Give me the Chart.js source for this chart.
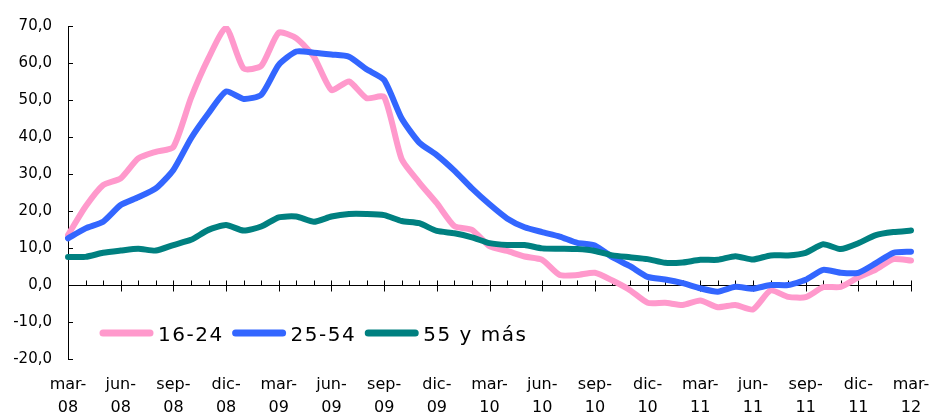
<!DOCTYPE html>
<html>
<head>
<meta charset="utf-8">
<style>
  html, body { margin: 0; padding: 0; background: #fff; overflow: hidden; }
  canvas { display: block; }
</style>
<script src="https://cdn.jsdelivr.net/npm/chart.js@4/dist/chart.umd.min.js"></script>
</head>
<body>
<canvas id="paroChart" width="932" height="430"></canvas>
<script>
// meses: mar-08 ... mar-12
const monthNames = ['ene', 'feb', 'mar', 'abr', 'may', 'jun', 'jul', 'ago', 'sep', 'oct', 'nov', 'dic'];
const months = [];
for (let k = 0; k < 49; k++) {
    const m = (2 + k) % 12;
    const y = 8 + Math.floor((2 + k) / 12);
    months.push(monthNames[m] + '-' + String(y).padStart(2, '0'));
}

const seriesLabels = ['16-24', '25-54', '55 y más'];

const jovenes = [13.5, 21.2, 27.0, 28.8, 34.2, 36.0, 37.3, 50.5, 61.3, 69.5,
    58.5, 59.2, 68.2, 66.7, 61.7, 52.7, 55.0, 50.5, 50.8, 34.0,
    27.7, 22.1, 15.9, 14.9, 10.5, 9.2, 7.7, 6.8, 2.7, 2.7,
    3.3, 1.2, -1.4, -4.8, -4.8, -5.4, -4.2, -6.0, -5.4, -6.6,
    -1.5, -3.2, -3.3, -0.6, -0.5, 2.1, 4.2, 7.0, 6.6];

const adultos = [12.6, 15.3, 17.1, 21.6, 23.7, 26.1, 31.1, 39.6, 46.4, 52.3,
    50.3, 51.4, 59.5, 63.1, 62.8, 62.3, 61.7, 58.3, 55.4, 45.0,
    38.5, 35.1, 30.9, 26.1, 21.8, 18.0, 15.6, 14.3, 13.1, 11.4,
    10.7, 7.5, 5.1, 2.2, 1.5, 0.5, -0.9, -1.8, -0.5, -1.0,
    0.0, 0.0, 1.4, 4.1, 3.3, 3.3, 5.9, 8.7, 9.0];

const mayores = [7.6, 7.6, 8.7, 9.3, 9.8, 9.3, 10.8, 12.2, 14.9, 16.2,
    14.7, 15.8, 18.3, 18.5, 17.1, 18.5, 19.2, 19.2, 18.9, 17.3,
    16.7, 14.6, 14.0, 12.9, 11.3, 10.8, 10.8, 9.9, 9.8, 9.7,
    9.2, 8.0, 7.5, 7.0, 6.0, 6.1, 6.8, 6.8, 7.8, 6.9,
    8.0, 8.0, 8.7, 11.0, 9.7, 11.3, 13.5, 14.3, 14.7];

const colores = ['#ff99cc', '#3366ff', '#008080'];

// ejes: línea del cero con marcas y marcas interiores del eje Y
const ejesPlugin = {
    id: 'ejes',
    beforeDatasetsDraw(chart) {
        const { ctx, scales: { x, y }, chartArea } = chart;
        const y0 = Math.round(y.getPixelForValue(0)) + 0.5;
        ctx.save();
        ctx.strokeStyle = '#000';
        ctx.lineWidth = 1;
        ctx.beginPath();
        ctx.moveTo(chartArea.left, y0);
        ctx.lineTo(chartArea.right, y0);
        for (let i = 0; i < months.length; i++) {
            const px = Math.round(x.getPixelForValue(i)) + 0.5;
            if (i % 3 === 0) {
                ctx.moveTo(px, y0 - 5);
                ctx.lineTo(px, y0 + 6);
            } else {
                ctx.moveTo(px, y0 - 5);
                ctx.lineTo(px, y0);
            }
        }
        y.ticks.forEach(t => {
            const py = Math.round(y.getPixelForValue(t.value)) + 0.5;
            ctx.moveTo(chartArea.left, py);
            ctx.lineTo(chartArea.left + 5, py);
        });
        ctx.stroke();
        ctx.restore();
    }
};

// leyenda dentro del área del gráfico
const leyendaPlugin = {
    id: 'leyenda',
    afterDraw(chart) {
        const ctx = chart.ctx;
        let px = 100;
        const py = 333;
        ctx.save();
        ctx.font = '20px "DejaVu Sans"';
        ctx.letterSpacing = '1.5px';
        ctx.textBaseline = 'middle';
        ctx.fillStyle = '#000';
        chart.data.datasets.forEach(ds => {
            ctx.strokeStyle = ds.borderColor;
            ctx.lineWidth = 7;
            ctx.lineCap = 'round';
            ctx.beginPath();
            ctx.moveTo(px + 3, py);
            ctx.lineTo(px + 50, py);
            ctx.stroke();
            px += 58;
            ctx.fillText(ds.label, px, py + 3);
            px += ctx.measureText(ds.label).width + 9;
        });
        ctx.restore();
    }
};

const ctx = document.getElementById('paroChart').getContext('2d');
new Chart(ctx, {
    type: 'line',
    data: {
        labels: months,
        datasets: [
            { label: seriesLabels[0], data: jovenes, borderColor: colores[0], order: 3 },
            { label: seriesLabels[1], data: adultos, borderColor: colores[1], order: 2 },
            { label: seriesLabels[2], data: mayores, borderColor: colores[2], order: 1 }
        ]
    },
    options: {
        responsive: false,
        animation: false,
        layout: { padding: { top: 26, right: 21, left: 0, bottom: 0 } },
        elements: {
            line: { borderWidth: 6, tension: 0.2, borderJoinStyle: 'round', borderCapStyle: 'round', fill: false },
            point: { radius: 0 }
        },
        plugins: {
            legend: { display: false },
            tooltip: { enabled: false }
        },
        scales: {
            x: {
                offset: false,
                grid: { display: false, drawTicks: false },
                border: { display: false },
                ticks: {
                    autoSkip: false,
                    maxRotation: 0,
                    padding: 15,
                    color: '#000',
                    font: { family: '"DejaVu Sans"', size: 16, lineHeight: 1.4 },
                    callback: (v, i) => i % 3 === 0 ? [months[i].slice(0, 4), months[i].slice(4)] : ''
                },
                afterFit: s => { s.height = 71; s.paddingLeft = 0; s.paddingRight = 0; }
            },
            y: {
                min: -20,
                max: 70,
                grid: { display: false, drawTicks: false },
                border: { display: true, color: '#000', width: 1 },
                ticks: {
                    stepSize: 10,
                    padding: 16,
                    color: '#000',
                    font: { family: '"DejaVu Sans"', size: 15 },
                    callback: v => v.toFixed(1).replace('.', ',')
                },
                afterFit: s => { s.width = 68; }
            }
        }
    },
    plugins: [ejesPlugin, leyendaPlugin]
});
</script>
</body>
</html>
